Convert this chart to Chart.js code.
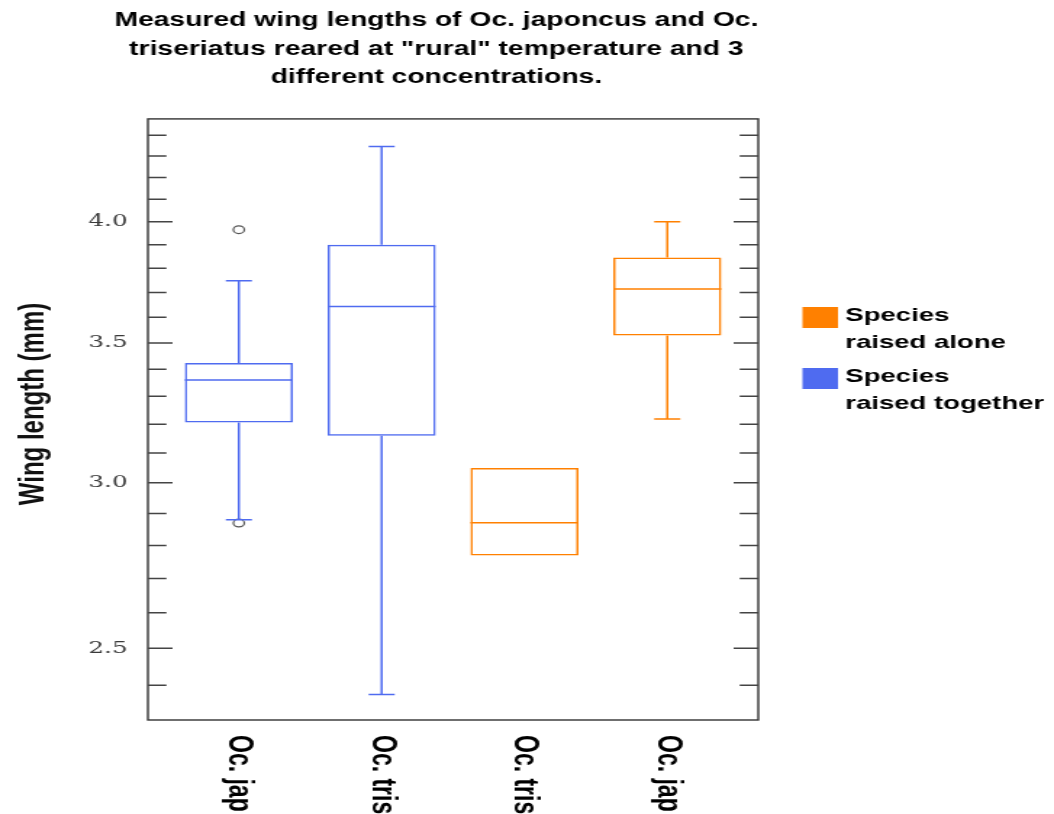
<!DOCTYPE html>
<html>
<head>
<meta charset="utf-8">
<title>Wing lengths</title>
<script src="https://cdn.jsdelivr.net/npm/chart.js@4.4.1/dist/chart.umd.min.js"></script>
<style>
  body { margin: 0; background: #fff; }
</style>
</head>
<body>
<!-- the reference picture is stretched sideways, so the canvas is drawn narrow and widened by css -->
<canvas id="chart" width="727" height="814" style="width:1054px;height:814px"></canvas>
<script>

const titleLines = [
  'Measured wing lengths of Oc. japoncus and Oc.',
  'triseriatus reared at "rural" temperature and 3',
  'different concentrations.'
];
const yTitle = 'Wing length (mm)';

const categories = ['Oc. jap', 'Oc. tris', 'Oc. tris', 'Oc. jap'];
const seriesNames = ['Species raised alone', 'Species raised together'];
const seriesColors = ['#ff8000', '#4f6bf0'];

// one entry per box, left to right
const boxSeries   = [1, 1, 0, 0];
const whiskerLow  = [2.88, 2.376, 2.769, 3.219];
const quartile1   = [3.206, 3.16, 2.769, 3.529];
const medians     = [3.36, 3.643, 2.871, 3.714];
const quartile3   = [3.423, 3.90, 3.049, 3.846];
const whiskerHigh = [3.748, 4.346, 3.049, 4.0];

const outlierBox = [0, 0];
const outlierValues = [3.965, 2.87];

const yMajorTicks = [2.5, 3.0, 3.5, 4.0];
const yMinorTicks = [2.4, 2.6, 2.7, 2.8, 2.9, 3.1, 3.2, 3.3, 3.4, 3.6, 3.7, 3.8, 3.9, 4.1, 4.2, 4.3, 4.4];


function boxData(s) {
  const out = [];
  categories.forEach((c, i) => {
    if (boxSeries[i] === s) out.push({x: i + 1, y: [quartile1[i], quartile3[i]]});
  });
  return out;
}

const BOX_W = 74.5;
const CAP_W = 18;

const boxExtras = {
  id: 'boxExtras',
  afterDatasetsDraw(chart) {
    const {ctx} = chart;
    const x = chart.scales.x, y = chart.scales.y;
    ctx.save();
    ctx.lineWidth = 1.5;
    for (let i = 0; i < categories.length; i++) {
      const cx = x.getPixelForValue(i + 1);
      ctx.strokeStyle = seriesColors[boxSeries[i]];
      ctx.beginPath();
      const ym = y.getPixelForValue(medians[i]);
      ctx.moveTo(cx - BOX_W / 2, ym);
      ctx.lineTo(cx + BOX_W / 2, ym);
      if (whiskerHigh[i] > quartile3[i]) {
        const yt = y.getPixelForValue(whiskerHigh[i]);
        ctx.moveTo(cx, y.getPixelForValue(quartile3[i]));
        ctx.lineTo(cx, yt);
        ctx.moveTo(cx - CAP_W / 2, yt);
        ctx.lineTo(cx + CAP_W / 2, yt);
      }
      if (whiskerLow[i] < quartile1[i]) {
        const yb = y.getPixelForValue(whiskerLow[i]);
        ctx.moveTo(cx, y.getPixelForValue(quartile1[i]));
        ctx.lineTo(cx, yb);
        ctx.moveTo(cx - CAP_W / 2, yb);
        ctx.lineTo(cx + CAP_W / 2, yb);
      }
      ctx.stroke();
    }
    ctx.restore();
  },
  afterDraw(chart) {
    const {ctx, chartArea: a} = chart;
    const x = chart.scales.x, y = chart.scales.y;
    ctx.save();

    // frame + inward ticks on both sides
    ctx.strokeStyle = '#333';
    ctx.lineWidth = 1.4;
    ctx.strokeRect(a.left, a.top, a.right - a.left, a.bottom - a.top);
    ctx.strokeStyle = '#444';
    ctx.lineWidth = 1.5;
    ctx.beginPath();
    const tick = (v, len) => {
      const py = y.getPixelForValue(v);
      ctx.moveTo(a.left, py); ctx.lineTo(a.left + len, py);
      ctx.moveTo(a.right, py); ctx.lineTo(a.right - len, py);
    };
    yMajorTicks.forEach(v => tick(v, 17));
    yMinorTicks.forEach(v => tick(v, 12.8));
    ctx.stroke();

    // y axis title (sits a bit above the middle of the axis in the original)
    ctx.fillStyle = '#111';
    ctx.font = 'bold 24px "Liberation Sans", Arial, sans-serif';
    ctx.textAlign = 'center';
    ctx.textBaseline = 'middle';
    ctx.save();
    ctx.translate(23, 404);
    ctx.rotate(-Math.PI / 2);
    ctx.fillText(yTitle, 0, 0);
    ctx.restore();

    // category labels, turned clockwise
    ctx.fillStyle = '#000';
    ctx.font = 'bold 23px "Liberation Sans", Arial, sans-serif';
    ctx.textAlign = 'left';
    categories.forEach((c, i) => {
      ctx.save();
      ctx.translate(x.getPixelForValue(i + 1), a.bottom + 15);
      ctx.rotate(Math.PI / 2);
      ctx.fillText(c, 0, 0);
      ctx.restore();
    });

    // legend, two lines per entry
    ctx.font = 'bold 19px "Liberation Sans", Arial, sans-serif';
    ctx.textBaseline = 'alphabetic';
    seriesNames.forEach((name, k) => {
      const top = 307 + k * 61;
      ctx.fillStyle = seriesColors[k];
      ctx.fillRect(553.5, top, 24.5, 21);
      ctx.fillStyle = '#000';
      const cut = name.indexOf(' ');
      ctx.fillText(name.slice(0, cut), 583, top + 14);
      ctx.fillText(name.slice(cut + 1), 583, top + 41);
    });
    ctx.restore();
  }
};

const ctx = document.getElementById('chart').getContext('2d');
new Chart(ctx, {
  type: 'bar',
  data: {
    datasets: [
      {
        label: seriesNames[0],
        data: boxData(0),
        borderColor: seriesColors[0],
        backgroundColor: 'rgba(255,255,255,0)',
        borderWidth: 1.5,
        borderSkipped: false,
        grouped: false,
        categoryPercentage: 1,
        barPercentage: 0.757
      },
      {
        label: seriesNames[1],
        data: boxData(1),
        borderColor: seriesColors[1],
        backgroundColor: 'rgba(255,255,255,0)',
        borderWidth: 1.5,
        borderSkipped: false,
        grouped: false,
        categoryPercentage: 1,
        barPercentage: 0.757
      },
      {
        type: 'scatter',
        label: 'Outliers',
        data: outlierValues.map((v, k) => ({x: outlierBox[k] + 1, y: v})),
        pointStyle: 'circle',
        pointRadius: 3.8,
        borderColor: '#555',
        backgroundColor: '#fff',
        borderWidth: 1.2
      }
    ]
  },
  options: {
    responsive: false,
    devicePixelRatio: 1,
    animation: false,
    events: [],
    layout: { padding: {left: 0, right: 125, top: 0, bottom: 0} },
    scales: {
      x: {
        type: 'linear',
        offset: false,
        min: 0.363,
        max: 4.637,
        afterBuildTicks: s => { s.ticks = categories.map((c, i) => ({value: i + 1})); },
        afterFit: s => { s.height = 94; },
        grid: { display: false, drawTicks: false },
        border: { display: false },
        ticks: { display: false }
      },
      y: {
        type: 'logarithmic',
        position: 'left',
        min: 2.31,
        max: 4.48,
        afterBuildTicks: s => { s.ticks = yMajorTicks.map(v => ({value: v})); },
        afterFit: s => { s.width = 102; },
        grid: { display: false, drawTicks: false },
        border: { display: false },
        ticks: {
          callback: v => Number(v).toFixed(1),
          font: { family: 'DejaVu Serif', size: 17 },
          color: '#3a3a3a',
          padding: 14
        }
      },
      yRight: {
        type: 'linear',
        position: 'right',
        afterFit: s => { s.width = 79; },
        grid: { display: false, drawTicks: false },
        border: { display: false },
        ticks: { display: false }
      }
    },
    plugins: {
      legend: { display: false },
      tooltip: { enabled: false },
      title: {
        display: true,
        text: titleLines,
        color: '#000',
        font: { family: 'Liberation Sans', size: 19.5, weight: 'bold', lineHeight: 1.46 },
        padding: { top: 6.75, bottom: 26.75 }
      }
    }
  },
  plugins: [boxExtras]
});
</script>
</body>
</html>
